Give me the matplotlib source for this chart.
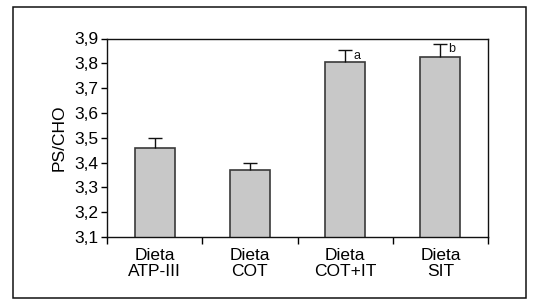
import matplotlib
matplotlib.use("Agg")
import matplotlib.pyplot as plt
from matplotlib.patches import Rectangle
import numpy as np

categories = ["Dieta\nATP-III", "Dieta\nCOT", "Dieta\nCOT+IT", "Dieta\nSIT"]
values = [3.46, 3.37, 3.807, 3.827]
errors = [0.038, 0.027, 0.045, 0.050]
letters = ["", "", "a", "b"]
yticks = [3.1, 3.2, 3.3, 3.4, 3.5, 3.6, 3.7, 3.8, 3.9]
ytick_labels = ["3,1", "3,2", "3,3", "3,4", "3,5", "3,6", "3,7", "3,8", "3,9"]

plt.rcParams['font.family'] = ['Liberation Sans', 'DejaVu Sans']

W, H = 535, 306
fig = plt.figure(figsize=(W / 100, H / 100), dpi=100)
fig.patch.set_facecolor("white")

# outer frame
fig.add_artist(Rectangle((13 / W, 1 - 298 / H), (526 - 13) / W, (298 - 7) / H,
                         transform=fig.transFigure, fill=False,
                         edgecolor="#111111", linewidth=1.1))

ax = fig.add_axes([107 / W, 1 - 237 / H, (488 - 107) / W, (237 - 38.5) / H])
x = np.arange(len(categories))
ax.bar(x, values, width=0.42, bottom=0, color="#c8c8c8", edgecolor="#3a3a3a",
       linewidth=1.2, zorder=2)
eb = ax.errorbar(x, values, yerr=[np.zeros(len(errors)), errors], fmt="none",
                 ecolor="#111111", elinewidth=1.0, capsize=5, capthick=1.0, zorder=3)
# hide lower caps (at bar tops)
caps = eb[1]
if len(caps) >= 2:
    caps[0].set_visible(False)
for xi, v, e, t in zip(x, values, errors, letters):
    if t:
        ax.text(xi + 0.085, v + e + 0.003, t, fontsize=9, ha="left", va="top",
                color="#111111")

ax.set_xlim(-0.5, len(categories) - 0.5)
ax.set_ylim(3.1, 3.9)
ax.set_yticks(yticks)
ax.set_yticklabels(ytick_labels, fontsize=12.5)
ax.set_xticks(x)
ax.set_xticklabels(categories, fontsize=12.5, linespacing=1.05)
ax.tick_params(axis="x", length=0, pad=8)
ax.set_xticks(np.arange(len(categories) + 1) - 0.5, minor=True)
ax.tick_params(axis="x", which="minor", length=5, width=1.0, direction="out")
ax.tick_params(axis="y", length=4, width=1.0, direction="out", pad=2)
for s in ax.spines.values():
    s.set_linewidth(1.0)
    s.set_color("#111111")
ax.set_ylabel("PS/CHO", fontsize=12.5, labelpad=6)

fig.savefig("out.png", dpi=100)
